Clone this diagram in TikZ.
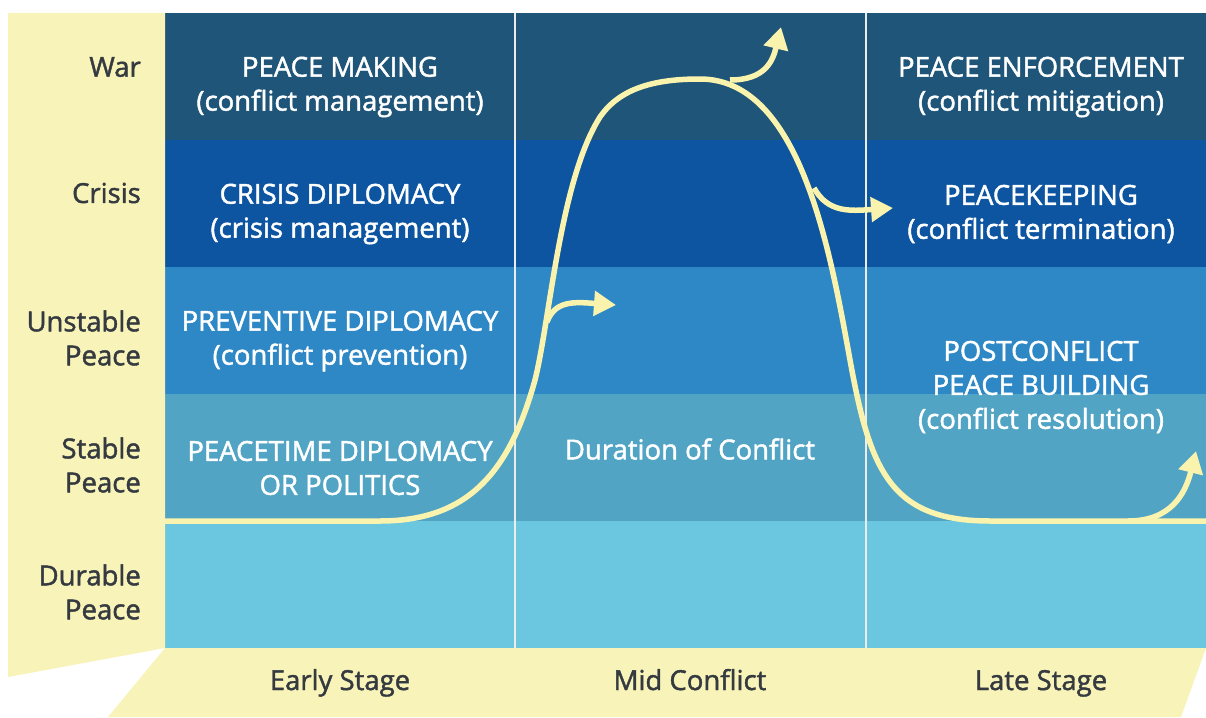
\documentclass[tikz,border=0pt]{standalone}
\usepackage{fontspec}
\setmainfont{Open Sans}[FakeBold=1.6]
\usetikzlibrary{arrows.meta}

\definecolor{sand}{HTML}{F8F3B8}
\definecolor{cream}{HTML}{FAF3AE}
\definecolor{ink}{HTML}{353A40}
\definecolor{rowwar}{HTML}{1F5579}
\definecolor{rowcrisis}{HTML}{0D55A0}
\definecolor{rowunstable}{HTML}{2F88C6}
\definecolor{rowstable}{HTML}{52A4C4}
\definecolor{rowdurable}{HTML}{6BC6E0}

\tikzset{
  level/.style={anchor=east, inner sep=0pt, align=right, text=ink, font=\fontsize{27.5}{34}\selectfont},
  stage/.style={anchor=base, text=ink, font=\fontsize{27.5}{34}\selectfont},
  cell/.style={align=center, text=white, font=\fontsize{27.5}{34}\selectfont},
  curveline/.style={draw=cream, line width=5.5pt},
  branch/.style={curveline, -{Triangle[width=24pt, length=22pt]}},
}

\begin{document}
\begin{tikzpicture}[x=1pt, y=-1pt]
			\useasboundingbox (0,0) rectangle (1206,717);

			% Draw the rows of the grid
			\fill[rowwar] (165,13) rectangle (1206,140);
			\fill[rowcrisis] (165,140) rectangle (1206,267);
			\fill[rowunstable] (165,267) rectangle (1206,394);
			\fill[rowstable] (165,394) rectangle (1206,521);
			\fill[rowdurable] (165,521) rectangle (1206,648);

			% Draw the column dividers
			\draw[white!85!gray, line width=1.2pt] (515,13) -- (515,648);
			\draw[white!85!gray, line width=1.2pt] (866,13) -- (866,648);

			% Draw the sand panels round the grid
			\fill[sand] (8,13) -- (165,13) -- (165,648) -- (8,677) -- cycle;
			\fill[sand] (165,648) -- (1206,648) -- (1181,717) -- (108,717) -- cycle;

			% Levels on the left
			\node[level] (war) at (141,67) {War};
			\node[level] (crisis) at (141,193) {Crisis};
			\node[level] (unstable) at (141,338) {Unstable\\Peace};
			\node[level] (stable) at (141,465) {Stable\\Peace};
			\node[level] (durable) at (141,592) {Durable\\Peace};

			% Stages at the bottom
			\node[stage] (early) at (340,690) {Early Stage};
			\node[stage] (mid) at (690,690) {Mid Conflict};
			\node[stage] (late) at (1041,690) {Late Stage};

			% Labels inside the cells
			\node[cell] (making) at (340,87) {PEACE MAKING\\(conflict management)};
			\node[cell] (diplomacy) at (340,214) {CRISIS DIPLOMACY\\(crisis management)};
			\node[cell] (preventive) at (340,341) {PREVENTIVE DIPLOMACY\\(conflict prevention)};
			\node[cell] (peacetime) at (340,468) {PEACETIME DIPLOMACY\\OR POLITICS};
			\node[cell] (duration) at (690,449) {Duration of Conflict};
			\node[cell] (enforcement) at (1041,87) {PEACE ENFORCEMENT\\(conflict mitigation)};
			\node[cell] (keeping) at (1041,214) {PEACEKEEPING\\(conflict termination)};
			\node[cell] (building) at (1041,387) {POSTCONFLICT\\PEACE BUILDING\\(conflict resolution)};

			% Draw the conflict curve
			\draw[curveline] (165,521) -- (380,521)
				.. controls (470,521) and (510,470) .. (535,380)
				.. controls (550,320) and (560,180) .. (600,117)
				.. controls (620,88) and (655,79) .. (700,79)
				.. controls (800,79) and (830,250) .. (850,360)
				.. controls (870,470) and (890,521) .. (990,521)
				-- (1206,521);

			% Branch points on the curve and arrow ends
			\coordinate (rise) at (547,322);
			\coordinate (rise end) at (616,305);
			\coordinate (top) at (730,80);
			\coordinate (top end) at (781,27);
			\coordinate (fall) at (814,188);
			\coordinate (fall end) at (893,208);
			\coordinate (settle) at (1128,521);
			\coordinate (settle end) at (1196,451);

			% Draw the branches
			\draw[branch] (rise) .. controls (555,300) and (575,302) .. (rise end);
			\draw[branch] (top) .. controls (766,80) and (773,60) .. (top end);
			\draw[branch] (fall) .. controls (828,213) and (850,211) .. (fall end);
			\draw[branch] (settle) .. controls (1170,521) and (1185,495) .. (settle end);

		\end{tikzpicture}
\end{document}
